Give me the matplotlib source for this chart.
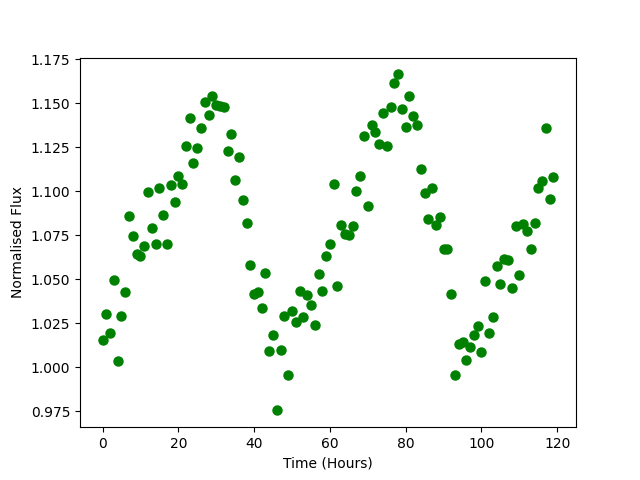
import matplotlib
matplotlib.use("Agg")
import matplotlib.pyplot as plt
import numpy as np

time_hours = list(range(120))
flux = [
    1.0155, 1.0306, 1.0193, 1.0499, 1.0036, 1.0295, 1.0426, 1.0859, 1.0749, 1.0647,
    1.0633, 1.0692, 1.0999, 1.0795, 1.0700, 1.1018, 1.0868, 1.0700, 1.1039, 1.0942,
    1.1090, 1.1044, 1.1260, 1.1419, 1.1163, 1.1249, 1.1362, 1.1507, 1.1436, 1.1540,
    1.1493, 1.1487, 1.1481, 1.1228, 1.1328, 1.1067, 1.1197, 1.0953, 1.0823, 1.0581,
    1.0420, 1.0427, 1.0335, 1.0539, 1.0091, 1.0182, 0.9756, 1.0102, 1.0295, 0.9955,
    1.0318, 1.0257, 1.0433, 1.0284, 1.0410, 1.0352, 1.0244, 1.0533, 1.0437, 1.0633,
    1.0700, 1.1044, 1.0461, 1.0808, 1.0760, 1.0755, 1.0802, 1.1001, 1.1090, 1.1317,
    1.0919, 1.1375, 1.1339, 1.1271, 1.1447, 1.1260, 1.1481, 1.1617, 1.1665, 1.1470,
    1.1368, 1.1544, 1.1430, 1.1379, 1.1129, 1.0993, 1.0846, 1.1022, 1.0812, 1.0857,
    1.0675, 1.0675, 1.0420, 0.9955, 1.0131, 1.0142, 1.0045, 1.0114, 1.0187, 1.0238,
    1.0085, 1.0494, 1.0193, 1.0289, 1.0579, 1.0473, 1.0619, 1.0613, 1.0454, 1.0806,
    1.0528, 1.0817, 1.0778, 1.0675, 1.0823, 1.1022, 1.1061, 1.1362, 1.0959, 1.1080,
]

fig, ax = plt.subplots(figsize=(6.4, 4.8), dpi=100)
ax.plot(time_hours, flux, 'o', color='green', markersize=6.5)
ax.set_xlabel("Time (Hours)")
ax.set_ylabel("Normalised Flux")
fig.savefig("out.png", dpi=100)
